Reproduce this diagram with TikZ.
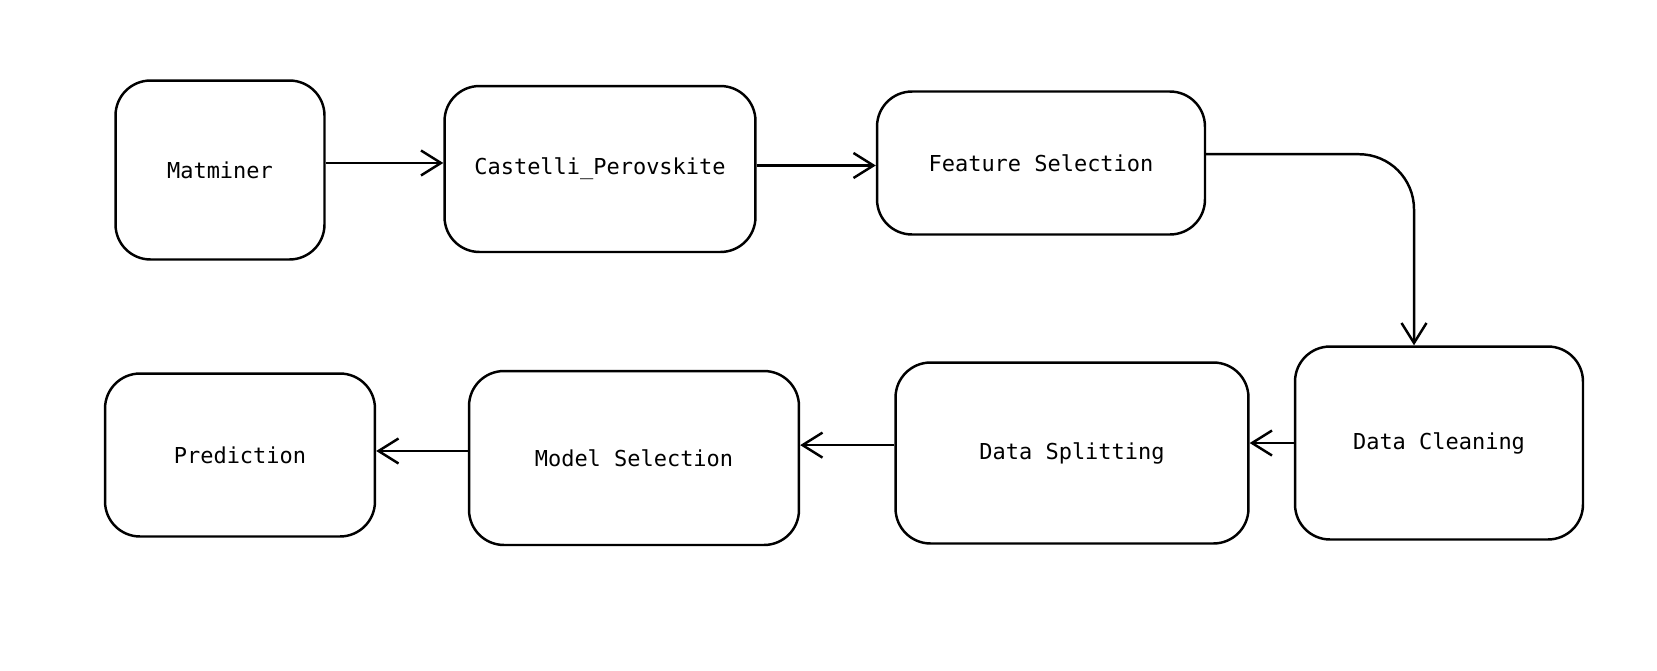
\documentclass[tikz,border=0pt]{standalone}
\usepackage{fontspec}
\setmonofont{DejaVu Sans Mono}
\usetikzlibrary{arrows.meta}

\begin{document}
\begin{tikzpicture}[
    x=0.02cm, y=-0.02cm,
    every node/.style={draw, align=center, rounded corners=0.7cm, line width=1.4pt,
        inner sep=0pt, font=\ttfamily\fontsize{12.5}{15}\selectfont},
    ->, >={Straight Barb[length=4mm,width=5mm]}, line width=1.4pt
]
    \useasboundingbox (0,0) rectangle (1657,670);

    \node (mat) [minimum width=4.18cm, minimum height=3.58cm] at (220,170) {Matminer};
    \node (cast) [minimum width=6.22cm, minimum height=3.32cm] at (600,169) {Castelli\_Perovskite};
    \node (feat) [minimum width=6.56cm, minimum height=2.86cm] at (1041,163) {Feature Selection};
    \node (clean) [minimum width=5.76cm, minimum height=3.86cm] at (1439,443) {Data Cleaning};
    \node (split) [minimum width=7.06cm, minimum height=3.62cm] at (1072,453) {Data Splitting};
    \node (model) [minimum width=6.60cm, minimum height=3.48cm] at (634,458) {Model Selection};
    \node (pred) [minimum width=5.40cm, minimum height=3.26cm] at (240,455) {Prediction};

    \draw [->] ([yshift=4pt]mat.east) -- ([yshift=4pt]cast.west |- mat.east);
    \draw [->] ([yshift=2pt]cast.east) -- ([yshift=2pt]feat.west |- cast.east);
    \draw [->, rounded corners=1.1cm] ([yshift=5pt]feat.east) -| ([xshift=-0.5cm]clean.north);
    \draw [->] (clean.west) -- (split.east |- clean.west);
    \draw [->] ([yshift=4.5pt]split.west) -- ([yshift=4.5pt]model.east |- split.west);
    \draw [->] ([yshift=4pt]model.west) -- ([yshift=4pt]pred.east |- model.west);
\end{tikzpicture}
\end{document}
